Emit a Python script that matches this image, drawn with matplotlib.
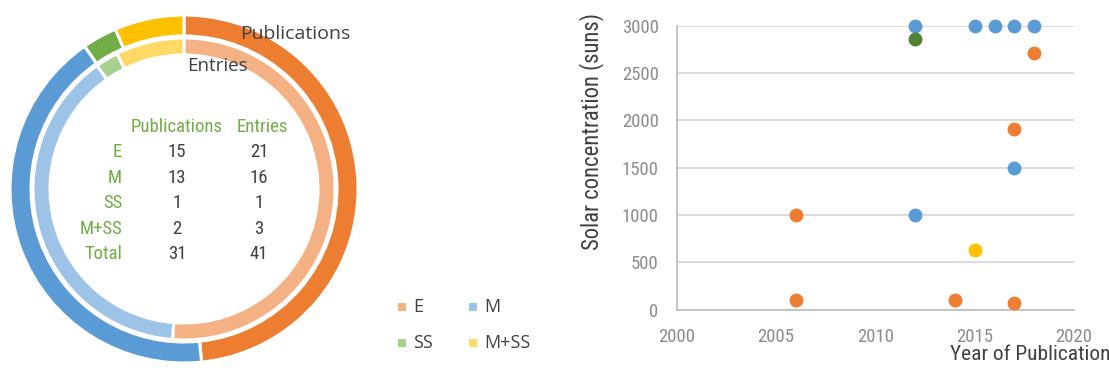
import matplotlib
matplotlib.use("Agg")
import matplotlib.pyplot as plt
from matplotlib import font_manager

W, H = 1109, 371

# ---- data ----
categories = ["E", "M", "SS", "M+SS"]
publications = [15, 13, 1, 2]
entries = [21, 16, 1, 3]

outer_colors = ["#ED7D31", "#5B9BD5", "#70AD47", "#FFC000"]
inner_colors = ["#F4B183", "#9DC3E6", "#A9D18E", "#FFD966"]

# scatter series: (year, concentration)
e_years = [2006, 2006, 2014, 2017, 2017, 2018]
e_conc = [1000, 100, 100, 75, 1910, 2710]
m_years = [2012, 2012, 2015, 2016, 2017, 2017, 2018]
m_conc = [3000, 1000, 3000, 3000, 3000, 1500, 3000]
ss_years = [2012]
ss_conc = [2860]
mss_years = [2015]
mss_conc = [630]

x_ticks = [2000, 2005, 2010, 2015, 2020]
y_ticks = [0, 500, 1000, 1500, 2000, 2500, 3000]

names = {f.name for f in font_manager.fontManager.ttflist}


def pick(cands):
    for c in cands:
        if c in names:
            return c
    return "DejaVu Sans"


narrow = pick(["Roboto Condensed", "Liberation Sans Narrow", "Open Sans Condensed",
               "Noto Sans Condensed", "DejaVu Sans Condensed", "Roboto"])
plain = pick(["Open Sans", "Noto Sans"])
narrow_is_condensed = narrow not in ("Roboto", "DejaVu Sans")
nfs = 13.5 if narrow_is_condensed else 12.5
lfs = nfs * 1.14
yfs = nfs * 1.21

fig = plt.figure(figsize=(W / 100, H / 100), dpi=100)


def fx(px):
    return px / W


def fy(py):
    return 1 - py / H


# ---- donut ----
cx, cy, half = 184, 189, 182
R = 174.0
ax_d = fig.add_axes([fx(cx - half), fy(cy + half), 2 * half / W, 2 * half / H])
ax_d.set_aspect("equal")
ax_d.axis("off")
ax_d.pie(publications, radius=1.0, colors=outer_colors, startangle=90, counterclock=False,
         wedgeprops=dict(width=21 / R, edgecolor="white", linewidth=2.2))
ax_d.pie(entries, radius=151 / R, colors=inner_colors, startangle=90, counterclock=False,
         wedgeprops=dict(width=17 / R, edgecolor="white", linewidth=2.2))
lim = half / R
ax_d.set_xlim(-lim, lim)
ax_d.set_ylim(-lim, lim)

fig.text(fx(240), fy(34), "Publications", fontsize=14, color="#404040", family=plain,
         ha="left", va="center")
fig.text(fx(187), fy(66), "Entries", fontsize=13.5, color="#404040", family=plain,
         ha="left", va="center")

# summary table inside the donut
green = "#70AD47"
dark = "#404040"
fig.text(fx(177), fy(127), "Publications", color=green, fontsize=nfs, family=narrow,
         ha="center", va="center")
fig.text(fx(262), fy(127), "Entries", color=green, fontsize=nfs, family=narrow,
         ha="center", va="center")
rows = categories + ["Total"]
pub_col = publications + [sum(publications)]
ent_col = entries + [sum(entries)]
for i, (lab, p, e) in enumerate(zip(rows, pub_col, ent_col)):
    yy = 152 + i * 25.5
    fig.text(fx(122), fy(yy), lab, color=green, fontsize=nfs, family=narrow,
             ha="right", va="center")
    fig.text(fx(177), fy(yy), str(p), color=dark, fontsize=nfs, family=narrow,
             ha="center", va="center")
    fig.text(fx(259), fy(yy), str(e), color=dark, fontsize=nfs, family=narrow,
             ha="center", va="center")

# legend
leg_pos = [(402, 307), (473, 307), (402, 343), (473, 343)]
for (lx, ly), lab, col in zip(leg_pos, categories, inner_colors):
    fig.patches.append(plt.Rectangle((fx(lx - 4), fy(ly + 4)), 8 / W, 8 / H,
                                     transform=fig.transFigure, facecolor=col,
                                     edgecolor="none"))
    fig.text(fx(lx + 11), fy(ly), lab, color=dark, fontsize=13, family=plain,
             ha="left", va="center")

# ---- scatter ----
x0, x1 = 676.7, 1074
y0, y1 = 309.7, 25.7
ax = fig.add_axes([fx(x0), fy(y0), (x1 - x0) / W, (y0 - y1) / H])
ms = 100
series = [(e_years, e_conc, "#ED7D31"), (m_years, m_conc, "#5B9BD5"),
          (ss_years, ss_conc, "#548235"), (mss_years, mss_conc, "#FFC000")]
for xs, ys, col in series:
    ax.scatter(xs, ys, s=ms, color=col, zorder=3, linewidths=0, clip_on=False)

ax.set_xlim(2000, 2020)
ax.set_ylim(0, 3000)
ax.set_xticks(x_ticks)
ax.set_yticks(y_ticks)
ax.yaxis.grid(True, color="#D9D9D9", linewidth=1.3)
ax.set_axisbelow(True)
for s in ["top", "right"]:
    ax.spines[s].set_visible(False)
for s in ["left", "bottom"]:
    ax.spines[s].set_color("#BFBFBF")
    ax.spines[s].set_linewidth(1.3)
ax.tick_params(axis="y", length=0, pad=13, labelsize=nfs, labelcolor="#8C8C8C")
ax.tick_params(axis="x", length=0, pad=13, labelsize=nfs, labelcolor="#8C8C8C")
for t in ax.get_xticklabels() + ax.get_yticklabels():
    t.set_family(narrow)
ax.set_ylabel("Solar concentration (suns)", fontsize=yfs, color=dark, family=narrow)
ax.yaxis.set_label_coords((604 - x0) / (x1 - x0), (y0 - 132) / (y0 - y1))
fig.text(fx(1111), fy(354), "Year of Publication", fontsize=lfs, color=dark, family=narrow,
         ha="right", va="center")

fig.savefig("out.png", dpi=100)
